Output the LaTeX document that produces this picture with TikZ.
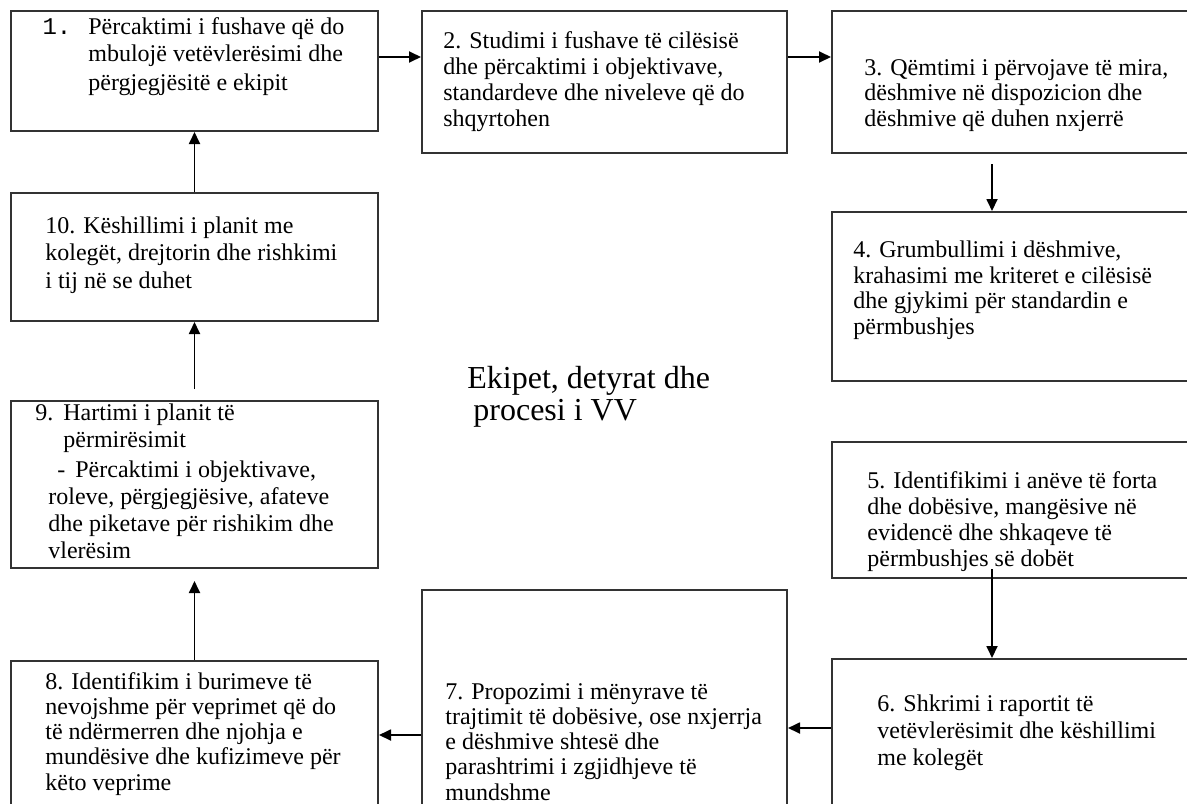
\documentclass[tikz,border=0pt]{standalone}
\usepackage{fontspec}
\setmainfont{Liberation Serif}
\setmonofont{Liberation Mono}
\usetikzlibrary{arrows.meta}

\begin{document}
\begin{tikzpicture}[x=0.5pt, y=-0.5pt,
	box/.style = {draw=black!80, line width=1pt, rectangle, inner sep=0pt},
	txt/.style = {anchor=base west, align=left, inner sep=0pt, font=\fontsize{12}{13}\selectfont},
	arr/.style = {line width=0.9pt, -{Triangle[length=6pt, width=5.5pt]}}
]
\useasboundingbox (0,0) rectangle (1187,803);
\clip (0,0) rectangle (1187,803);

% The ten boxes of the cycle (the right and lower ones run off the page)
\foreach \n/\cx/\cy/\w/\h in {1/194.5/71/183.5/60, 10/194.5/257/183.5/64, 9/194.5/484.5/183.5/83.5,
	8/194.5/738/183.5/77, 2/604.5/82/182.5/71, 7/604.5/702.5/182.5/112.5,
	3/1013.5/82/181.5/71, 4/1013.5/296.5/181.5/84.5, 5/1013.5/510/181.5/68, 6/1013.5/737/181.5/78} {
  \node[box, minimum width=\w pt, minimum height=\h pt] (B\n) at (\cx,\cy) {};
}

% Texts of the steps (placed by the baseline of their last line)
\node[txt, font=\fontsize{12}{14}\selectfont] (t1) at (88,90) {\llap{\texttt{1.}\hspace{8.5pt}}P\"ercaktimi i fushave q\"e do\\ mbuloj\"e vet\"evler\"esimi dhe\\ p\"ergjegj\"esit\"e e ekipit};
\node[txt] (t2) at (443,126) {2. Studimi i fushave t\"e cil\"esis\"e\\ dhe p\"ercaktimi i objektivave,\\ standardeve dhe niveleve q\"e do\\ shqyrtohen};
\node[txt, font=\fontsize{12}{12.75}\selectfont] (t3) at (864,126) {3. Q\"emtimi i p\"ervojave t\"e mira,\\ d\"eshmive n\"e dispozicion dhe\\ d\"eshmive q\"e duhen nxjerr\"e};
\node[txt, font=\fontsize{12}{12.75}\selectfont] (t4) at (853,334) {4. Grumbullimi i d\"eshmive,\\ krahasimi me kriteret e cil\"esis\"e\\ dhe gjykimi p\"er standardin e\\ p\"ermbushjes};
\node[txt] (t5) at (867,566) {5. Identifikimi i an\"eve t\"e forta\\ dhe dob\"esive, mang\"esive n\"e\\ evidenc\"e dhe shkaqeve t\"e\\ p\"ermbushjes s\"e dob\"et};
\node[txt, font=\fontsize{12}{13.5}\selectfont] (t6) at (877,765) {6. Shkrimi i raportit t\"e\\ vet\"evler\"esimit dhe k\"eshillimi\\ me koleg\"et};
\node[txt, font=\fontsize{12}{12.6}\selectfont] (t7) at (445,800) {7. Propozimi i m\"enyrave t\"e\\ trajtimit t\"e dob\"esive, ose nxjerrja\\ e d\"eshmive shtes\"e dhe\\ parashtrimi i zgjidhjeve t\"e\\ mundshme};
\node[txt, font=\fontsize{12}{12.6}\selectfont] (t8) at (45,790) {8. Identifikim i burimeve t\"e\\ nevojshme p\"er veprimet q\"e do\\ t\"e nd\"ermerren dhe njohja e\\ mund\"esive dhe kufizimeve p\"er\\ k\"eto veprime};
\node[txt, font=\fontsize{12}{13.5}\selectfont] (t9) at (35,558) {9.\hspace*{5pt}Hartimi i planit t\"e\\ \hspace*{14pt}p\"ermir\"esimit\\[1.5pt] \hspace*{11pt}-\hspace*{5pt}P\"ercaktimi i objektivave,\\ \hspace*{6.5pt}roleve, p\"ergjegj\"esive, afateve\\ \hspace*{6.5pt}dhe piketave p\"er rishikim dhe\\ \hspace*{6.5pt}vler\"esim};
\node[txt, font=\fontsize{12}{13.75}\selectfont] (t10) at (45,288) {10. K\"eshillimi i planit me\\ koleg\"et, drejtorin dhe rishkimi\\ i tij n\"e se duhet};

% Title in the middle
\node[txt, font=\fontsize{16}{16}\selectfont] (title) at (467,420) {Ekipet, detyrat dhe\\ \hspace*{3pt}procesi i VV};

% Connectors
\coordinate (a12) at ([yshift=7pt]B1.east);
\draw[arr] (a12) -- (a12 -| B2.west);
\coordinate (a23) at ([yshift=12.5pt]B2.east);
\draw[arr] (a23) -- (a23 -| B3.west);
\coordinate (a34) at ([xshift=-10.75pt,yshift=-5pt]B3.south);
\draw[arr] (a34) -- (a34 |- B4.north);
\coordinate (a56) at ([xshift=-10.75pt,yshift=5pt]B5.south);
\draw[arr] (a56) -- (a56 |- B6.north);
\coordinate (a67) at ([yshift=4.5pt]B6.west);
\draw[arr] (a67) -- (a67 -| B7.east);
\coordinate (a78) at ([yshift=-16.25pt]B7.west);
\draw[arr] (a78) -- (a78 -| B8.east);
\draw[arr] (B8.north) -- ([yshift=-6pt]B9.south);
\draw[arr] ([yshift=5.5pt]B9.north) -- (B10.south);
\draw[arr] (B10.north) -- (B1.south);

\end{tikzpicture}
\end{document}
